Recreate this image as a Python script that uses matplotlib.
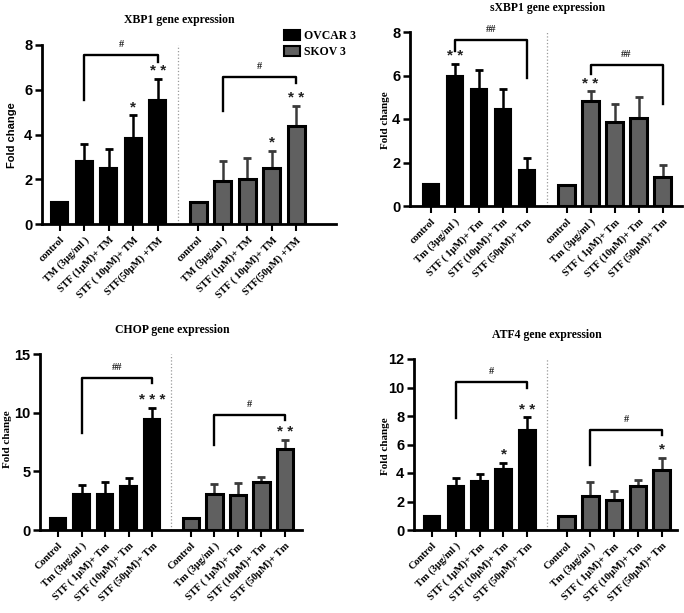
import numpy as np
import matplotlib
matplotlib.use("Agg")
import matplotlib.pyplot as plt
from matplotlib.patches import Patch

## Datos (fold change, media y error)

etiquetas_xbp1 = ["control", "TM (3µg/ml )", "STF (1µM)+ TM", "STF ( 10µM)+ TM", "STF(50µM) +TM"]
etiquetas_sxbp1 = ["control", "Tm (3µg/ml )", "STF ( 1µM)+ Tm", "STF (10µM)+ Tm", "STF (50µM)+ Tm"]
etiquetas_chop = ["Control", "Tm (3µg/ml )", "STF ( 1µM)+ Tm", "STF (10µM)+ Tm", "STF (50µM)+ Tm"]
etiquetas_atf4 = ["Control", "Tm (3µg/ml )", "STF ( 1µM)+ Tm", "STF (10µM)+ Tm", "STF (50µM)+ Tm"]

xbp1_ovcar = [1.0, 2.81, 2.51, 3.83, 5.56]
xbp1_ovcar_err = [0, 0.75, 0.82, 1.03, 0.94]
xbp1_skov = [1.0, 1.94, 1.99, 2.51, 4.38]
xbp1_skov_err = [0, 0.87, 0.95, 0.76, 0.88]

sxbp1_ovcar = [1.0, 6.0, 5.4, 4.47, 1.66]
sxbp1_ovcar_err = [0, 0.54, 0.85, 0.91, 0.54]
sxbp1_skov = [0.97, 4.84, 3.84, 4.03, 1.35]
sxbp1_skov_err = [0, 0.43, 0.86, 0.97, 0.54]

chop_ovcar = [1.0, 3.1, 3.1, 3.78, 9.45]
chop_ovcar_err = [0, 0.7, 0.95, 0.65, 0.95]
chop_skov = [1.0, 3.08, 2.97, 4.08, 6.92]
chop_skov_err = [0, 0.85, 1.03, 0.47, 0.76]

atf4_ovcar = [1.0, 3.08, 3.41, 4.31, 7.03]
atf4_ovcar_err = [0, 0.56, 0.49, 0.42, 0.87]
atf4_skov = [0.97, 2.37, 2.1, 3.12, 4.19]
atf4_skov_err = [0, 1.03, 0.62, 0.36, 0.88]

# Significancia: estrellas por barra
estrellas_xbp1 = (["", "", "", "*", "**"], ["", "", "", "*", "**"])
estrellas_sxbp1 = (["", "**", "", "", ""], ["", "**", "", "", ""])
estrellas_chop = (["", "", "", "", "***"], ["", "", "", "", "**"])
estrellas_atf4 = (["", "", "", "*", "**"], ["", "", "", "", "*"])

# Corchetes: (nivel, pata izquierda, pata derecha, texto) para OVCAR y SKOV
corchetes_xbp1 = [(7.55, 5.53, 7.25, "#"), (6.55, 5.04, 6.3, "#")]
corchetes_sxbp1 = [(7.64, 7.13, 5.89, "##"), (6.47, 6.05, 4.68, "##")]
corchetes_chop = [(12.95, 8.3, 12.5, "##"), (9.8, 7.24, 9.4, "#")]
corchetes_atf4 = [(10.41, 7.86, 10.0, "#"), (7.03, 4.54, 6.7, "#")]

SERIF = "Liberation Serif"
SANS = "Liberation Sans"
GRIS = "#606060"
DESPLAZ = 5.65  # posicion del segundo grupo


def graficar_panel(fig, rect, ovcar, ovcar_err, skov, skov_err, etiquetas,
                   ymax, yticks, xlim, estrellas, corchetes):
    ax = fig.add_axes(rect)
    x1 = np.arange(len(ovcar))
    x2 = x1 + DESPLAZ

    ax.bar(x1, ovcar, width=0.7, color="black", edgecolor="black", linewidth=1.5, zorder=3)
    ax.bar(x2, skov, width=0.7, color=GRIS, edgecolor="black", linewidth=2.2, zorder=3)
    ax.errorbar(x1[1:], ovcar[1:], yerr=[np.zeros(4), ovcar_err[1:]], fmt="none",
                ecolor="black", elinewidth=1.8, capsize=3, capthick=2, zorder=2)
    ax.errorbar(x2[1:], skov[1:], yerr=[np.zeros(4), skov_err[1:]], fmt="none",
                ecolor="#3a3a3a", elinewidth=1.8, capsize=3, capthick=2, zorder=2)

    # linea divisoria punteada
    ax.axvline((x1[-1] + x2[0]) / 2, color="#9a9a9a", linestyle=":", linewidth=0.9, zorder=1)

    # estrellas
    for xs, vals, errs, st in [(x1, ovcar, ovcar_err, estrellas[0]), (x2, skov, skov_err, estrellas[1])]:
        for xi, v, e, s in zip(xs, vals, errs, st):
            if s:
                ax.text(xi, v + e + 0.005 * ymax, " ".join(s), ha="center", va="bottom",
                        fontsize=11, fontweight="bold", family=SANS, color="#222222")

    # corchetes
    for xs, (nivel, izq, der, txt) in zip([x1, x2], corchetes):
        xa, xb = xs[1], xs[4]
        ax.plot([xa, xa, xb, xb], [izq, nivel, nivel, der], color="black",
                linewidth=1.7, clip_on=False, zorder=4)
        ax.text((xa + xb) / 2, nivel + 0.035 * ymax, txt, ha="center", va="bottom",
                fontsize=7.5, fontweight="bold", family=SERIF, color="#222222")

    ax.set_xlim(*xlim)
    ax.set_ylim(0, ymax)
    ax.set_yticks(yticks)
    ax.set_yticklabels([str(t) for t in yticks], fontsize=10.5, fontweight="bold", family=SANS)
    ax.set_xticks(np.concatenate([x1, x2]))
    ax.set_xticklabels(etiquetas + etiquetas, rotation=45, ha="right", rotation_mode="anchor",
                       fontsize=7.5, fontweight="bold", family=SERIF)
    ax.tick_params(axis="y", direction="out", length=5, width=1.8, pad=2)
    ax.tick_params(axis="x", direction="out", length=5, width=1.5, pad=3)
    for lado in ["top", "right"]:
        ax.spines[lado].set_visible(False)
    for lado in ["left", "bottom"]:
        ax.spines[lado].set_linewidth(2)
    return ax


W, H = 684, 613
fig = plt.figure(figsize=(W / 100, H / 100), dpi=100)


def rect_px(izq, der, arriba, abajo):
    return [izq / W, 1 - abajo / H, (der - izq) / W, (abajo - arriba) / H]


graficar_panel(fig, rect_px(42, 336, 45, 224), xbp1_ovcar, xbp1_ovcar_err, xbp1_skov, xbp1_skov_err,
               etiquetas_xbp1, 8, [0, 2, 4, 6, 8], (-0.73, 11.27), estrellas_xbp1, corchetes_xbp1)
graficar_panel(fig, rect_px(410, 682, 32, 206), sxbp1_ovcar, sxbp1_ovcar_err, sxbp1_skov, sxbp1_skov_err,
               etiquetas_sxbp1, 8, [0, 2, 4, 6, 8], (-0.875, 10.46), estrellas_sxbp1, corchetes_sxbp1)
graficar_panel(fig, rect_px(40, 302, 354, 530), chop_ovcar, chop_ovcar_err, chop_skov, chop_skov_err,
               etiquetas_chop, 15, [0, 5, 10, 15], (-0.77, 10.38), estrellas_chop, corchetes_chop)
graficar_panel(fig, rect_px(414, 677, 359, 530), atf4_ovcar, atf4_ovcar_err, atf4_skov, atf4_skov_err,
               etiquetas_atf4, 12, [0, 2, 4, 6, 8, 10, 12], (-0.76, 10.29), estrellas_atf4, corchetes_atf4)

# titulos
titulos = ["XBP1 gene expression", "sXBP1 gene expression", "CHOP gene expression", "ATF4 gene expression"]
pos_titulos = [(179, 20), (548, 8), (172, 330), (547, 335)]
for t, (px, py) in zip(titulos, pos_titulos):
    fig.text(px / W, 1 - py / H, t, ha="center", va="center", fontsize=8.5,
             fontweight="bold", family=SERIF)

# etiquetas del eje y
pos_ylabel = [(12, 135, SANS), (385, 120, SERIF), (8, 439, SERIF), (385, 446, SERIF)]
for px, py, fam in pos_ylabel:
    fig.text(px / W, 1 - py / H, "Fold change", rotation=90, ha="center", va="center",
             fontsize=8, fontweight="bold", family=fam)

# leyenda
fig.legend(handles=[Patch(facecolor="black", edgecolor="black", linewidth=1.5, label="OVCAR 3"),
                    Patch(facecolor=GRIS, edgecolor="black", linewidth=1.5, label="SKOV 3")],
           loc="upper left", bbox_to_anchor=(278 / W, 1 - 24 / H), frameon=False,
           prop={"family": SERIF, "weight": "bold", "size": 8.5},
           handlelength=1.4, handleheight=0.9, handletextpad=0.3, labelspacing=0.35,
           borderpad=0)

fig.savefig("out.png", dpi=100)
